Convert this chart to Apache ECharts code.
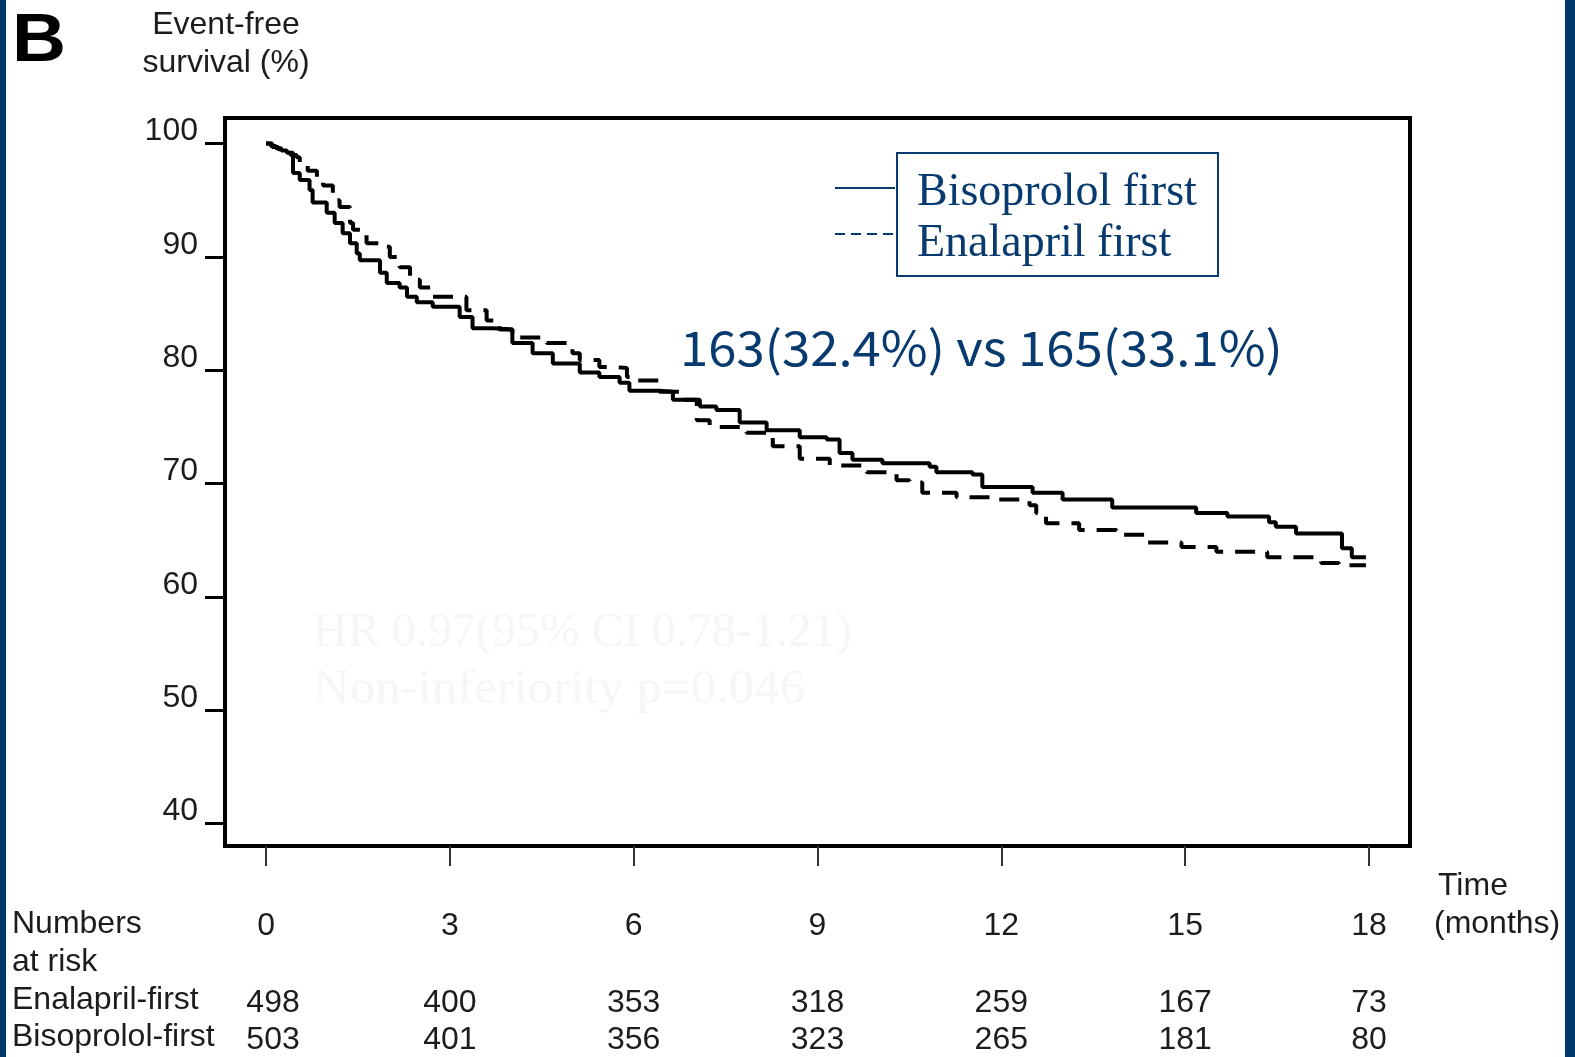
<!DOCTYPE html>
<html>
<head>
<meta charset="utf-8">
<script src="https://cdn.jsdelivr.net/npm/echarts@6/dist/echarts.min.js"></script>
<style>
  html, body { margin: 0; padding: 0; background: #ffffff; }
  #chart { width: 1575px; height: 1057px; }
</style>
</head>
<body>
<div id="chart"></div>
<script>
// Axis ticks
const monthTicks = [0, 3, 6, 9, 12, 15, 18];
const survivalTicks = [40, 50, 60, 70, 80, 90, 100];

// Numbers at risk, per month tick
const riskEnalapril = [498, 400, 353, 318, 259, 167, 73];
const riskBisoprolol = [503, 401, 356, 323, 265, 181, 80];

// Kaplan-Meier estimate, Bisoprolol first (time in months, survival in %)
const bisoprololTime = [0, 0.08, 0.16, 0.25, 0.34, 0.44, 0.55, 0.71, 0.76, 0.99, 1.12, 1.25, 1.37, 1.48, 1.53, 1.86, 1.97,
  2.18, 2.30, 2.46, 2.72, 3.16, 3.37, 3.70, 4.02, 4.35, 4.68, 5.12, 5.44, 5.77, 5.93, 6.42, 6.64, 7.08, 7.35,
  7.73, 8.17, 8.71, 9.15, 9.36, 9.57, 10.06, 10.83, 10.94, 11.53, 11.69, 12.51, 13.0, 13.81, 15.18, 15.69,
  16.37, 16.48, 16.81, 17.56, 17.72, 17.95];
const bisoprololSurvival = [100, 99.8, 99.6, 99.4, 99.2, 97.4, 96.8, 95.9, 94.8, 93.9, 93.0, 92.1, 91.2, 90.3, 89.7, 88.6, 87.7,
  87.3, 86.5, 86.0, 85.6, 84.7, 83.7, 83.6, 82.4, 81.5, 80.6, 79.8, 79.4, 78.9, 78.2, 78.1, 77.4, 76.8, 76.5,
  75.4, 74.7, 74.1, 73.9, 72.7, 72.1, 71.8, 71.5, 71.0, 70.8, 69.7, 69.2, 68.6, 67.9, 67.4, 67.1,
  66.6, 66.2, 65.6, 64.3, 63.5, 63.5];

// Kaplan-Meier estimate, Enalapril first
const enalaprilTime = [0, 0.10, 0.20, 0.30, 0.40, 0.50, 0.55, 0.68, 0.83, 0.93, 1.09, 1.20, 1.37, 1.42, 1.64, 1.86, 2.02,
  2.18, 2.35, 2.51, 2.72, 3.27, 3.60, 3.81, 4.02, 4.58, 5.00, 5.12, 5.44, 5.66, 5.89, 6.05, 6.42, 6.75, 7.03,
  7.24, 7.84, 8.27, 8.71, 9.20, 9.80, 10.29, 10.50, 10.71, 11.27, 11.92, 12.46, 12.57, 12.73, 13.27, 13.88,
  14.37, 14.94, 15.51, 16.34, 17.22, 17.51, 17.95];
const enalaprilSurvival = [100, 99.7, 99.5, 99.2, 99.0, 98.8, 98.3, 97.6, 96.8, 96.3, 95.0, 94.4, 93.0, 92.4, 91.2, 90.9, 90.0,
  89.1, 88.0, 87.3, 86.5, 85.3, 84.4, 83.6, 82.9, 82.4, 81.5, 80.9, 80.3, 80.2, 79.4, 79.1, 78.1, 77.4, 75.6,
  75.0, 74.5, 73.3, 72.2, 71.6, 71.0, 70.3, 70.1, 69.2, 68.8, 68.6, 68.1, 67.4, 66.5, 65.9, 65.5,
  64.8, 64.4, 64.0, 63.5, 63.0, 62.8, 62.8];

const pairs = (xs, ys) => xs.map((x, i) => [x, ys[i]]);

const NAVY = '#073a6e';
const INK = '#1c1c1c';
const SANS = 'Liberation Sans, Arial, sans-serif';
const SERIF = 'Liberation Serif, Times New Roman, serif';
const FS = 32;

const riskAxis = (counts, margin) => ({
  type: 'value', gridIndex: 0, position: 'bottom', min: -0.67, max: 18.67,
  axisLine: { show: false, onZero: false }, axisTick: { show: false }, splitLine: { show: false },
  axisLabel: {
    customValues: monthTicks, margin: margin, fontFamily: SANS, fontSize: FS, color: INK,
    formatter: v => {
      const i = monthTicks.indexOf(Math.round(v));
      return i === 0 ? '{first|' + counts[i] + '}' : String(counts[i]);
    },
    rich: { first: { fontFamily: SANS, fontSize: FS, color: INK, padding: [0, 0, 0, 14] } }
  }
});

const label = (text, x, y, extra) => Object.assign({
  type: 'text',
  style: { text: text, x: x, y: y, font: FS + 'px ' + SANS, fill: INK, align: 'left', verticalAlign: 'middle' }
}, extra || {});

const chart = echarts.init(document.getElementById('chart'), null, { renderer: 'canvas' });
chart.setOption({
  animation: false,
  backgroundColor: '#ffffff',
  grid: {
    left: 225, top: 118, width: 1185, height: 728,
    show: true, borderColor: '#000000', borderWidth: 4, backgroundColor: 'transparent'
  },
  xAxis: [
    {
      type: 'value', min: -0.67, max: 18.67,
      axisLine: { show: false, onZero: false }, splitLine: { show: false },
      axisTick: { customValues: monthTicks, length: 20, lineStyle: { color: '#333', width: 2 } },
      axisLabel: { customValues: monthTicks, margin: 64, fontFamily: SANS, fontSize: FS, color: INK }
    },
    riskAxis(riskEnalapril, 141),
    riskAxis(riskBisoprolol, 178)
  ],
  yAxis: {
    type: 'value', min: 38.03, max: 102.26,
    axisLine: { show: false, onZero: false }, splitLine: { show: false },
    axisTick: { customValues: survivalTicks, length: 20, lineStyle: { color: '#000', width: 3 } },
    axisLabel: {
      customValues: survivalTicks, margin: 27, fontFamily: SANS, fontSize: FS, color: INK,
      verticalAlign: 'bottom', lineHeight: 24
    }
  },
  series: [
    {
      name: 'Bisoprolol first', type: 'line', step: 'end', symbol: 'none',
      data: pairs(bisoprololTime, bisoprololSurvival),
      lineStyle: { color: '#000000', width: 4 }, z: 3
    },
    {
      name: 'Enalapril first', type: 'line', step: 'end', symbol: 'none',
      data: pairs(enalaprilTime, enalaprilSurvival),
      lineStyle: { color: '#000000', width: 4, type: [20, 12] }, z: 2
    }
  ],
  graphic: [
    // side bands
    { type: 'rect', shape: { x: 0, y: 0, width: 6, height: 1057 }, style: { fill: '#00386e' }, silent: true },
    { type: 'rect', shape: { x: 1565, y: 0, width: 10, height: 1057 }, style: { fill: '#00386e' }, silent: true },
    // panel letter and axis title
    { type: 'text', x: 12, y: 42, scaleX: 1.1, style: { text: 'B', x: 0, y: 0, font: 'bold 68px ' + SANS, fill: '#000', align: 'left', verticalAlign: 'middle' } },
    label('Event-free', 226, 25, { style: { text: 'Event-free', x: 226, y: 25, font: FS + 'px ' + SANS, fill: INK, align: 'center', verticalAlign: 'middle' } }),
    label('survival (%)', 226, 63, { style: { text: 'survival (%)', x: 226, y: 63, font: FS + 'px ' + SANS, fill: INK, align: 'center', verticalAlign: 'middle' } }),
    // time axis title
    label('Time', 1438, 886),
    label('(months)', 1434, 924),
    // numbers at risk row titles
    label('Numbers', 12, 924),
    label('at risk', 12, 962),
    label('Enalapril-first', 12, 1000),
    label('Bisoprolol-first', 12, 1037),
    // legend
    { type: 'rect', shape: { x: 897, y: 153, width: 321, height: 123 }, style: { fill: '#ffffff', stroke: NAVY, lineWidth: 2 }, z: 10 },
    { type: 'line', shape: { x1: 835, y1: 188, x2: 895, y2: 188 }, style: { stroke: NAVY, lineWidth: 2 }, z: 10 },
    { type: 'line', shape: { x1: 835, y1: 234, x2: 895, y2: 234 }, style: { stroke: NAVY, lineWidth: 2, lineDash: [10, 6] }, z: 10 },
    { type: 'text', style: { text: 'Bisoprolol first', x: 917, y: 193, font: '46px ' + SERIF, fill: NAVY, align: 'left', verticalAlign: 'middle' }, z: 11 },
    { type: 'text', style: { text: 'Enalapril first', x: 917, y: 244, font: '46px ' + SERIF, fill: NAVY, align: 'left', verticalAlign: 'middle' }, z: 11 },
    // event counts
    { type: 'text', x: 680, y: 348, scaleX: 1.06, style: { text: '163(32.4%) vs 165(33.1%)', x: 0, y: 0, font: '48px "Noto Sans CJK KR", "Noto Sans", sans-serif', fill: NAVY, align: 'left', verticalAlign: 'middle' }, z: 11 },
    // hazard ratio (very faint)
    { type: 'text', style: { text: 'HR 0.97(95% CI 0.78-1.21)', x: 313, y: 633, font: '48px ' + SERIF, fill: '#f6f6f6', align: 'left', verticalAlign: 'middle' }, z: 1 },
    { type: 'text', x: 313, y: 690, scaleX: 1.06, style: { text: 'Non-inferiority p=0.046', x: 0, y: 0, font: '48px ' + SERIF, fill: '#f6f6f6', align: 'left', verticalAlign: 'middle' }, z: 1 }
  ]
});
</script>
</body>
</html>
